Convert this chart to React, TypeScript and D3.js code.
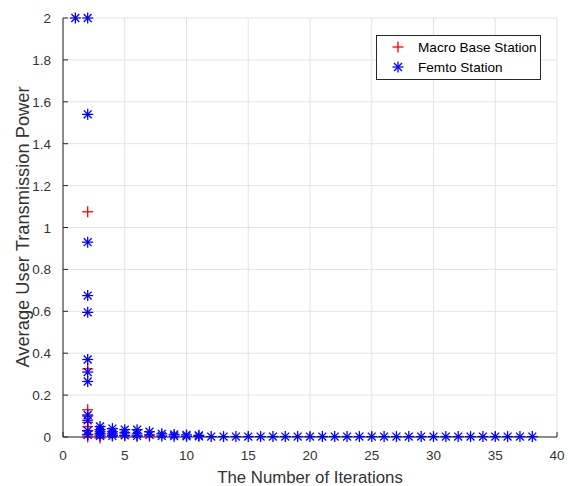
import React from "react";
import * as d3 from "d3";

const xTicks = [0, 5, 10, 15, 20, 25, 30, 35, 40];
const yTicks = [0, 0.2, 0.4, 0.6, 0.8, 1, 1.2, 1.4, 1.6, 1.8, 2];

const macroX = [2, 2, 2, 2, 2, 2, 2, 2, 2, 3, 3, 4, 5, 6, 7];
const macroY = [1.075, 0.325, 0.13, 0.1, 0.07, 0.05, 0.03, 0.012, 0.0, 0.015, -0.005, 0.008, 0.006, 0.005, 0.004];

const femtoX = [
  1, 2, 2, 2, 2, 2, 2, 2, 2, 2, 2, 2, 2,
  3, 3, 3, 3, 3, 4, 4, 4, 4, 5, 5, 5, 6, 6, 6, 7, 7, 8, 8, 9, 9, 10, 10, 11, 11,
  12, 13, 14, 15, 16, 17, 18, 19, 20, 21, 22, 23, 24, 25, 26, 27, 28, 29, 30,
  31, 32, 33, 34, 35, 36, 37, 38,
];
const femtoY = [
  2.0, 2.0, 1.54, 0.93, 0.675, 0.595, 0.37, 0.31, 0.265, 0.105, 0.08, 0.03, 0.01,
  0.05, 0.035, 0.025, 0.015, 0.005, 0.04, 0.025, 0.015, 0.005, 0.035, 0.02, 0.008, 0.035, 0.015, 0.005, 0.025, 0.01, 0.015, 0.005, 0.012, 0.004, 0.01, 0.003, 0.008, 0.003,
  0.002, 0.002, 0.002, 0.002, 0.002, 0.002, 0.002, 0.002, 0.002, 0.002, 0.002, 0.002, 0.002, 0.002, 0.002, 0.002, 0.002, 0.002, 0.002,
  0.002, 0.002, 0.002, 0.002, 0.002, 0.002, 0.002, 0.002,
];

const seriesNames = ["Macro Base Station", "Femto Station"];

const W = 568;
const H = 486;
const left = 63;
const right = 557;
const top = 18;
const bottom = 437;

const x = d3.scaleLinear().domain([0, 40]).range([left, right]);
const y = d3.scaleLinear().domain([0, 2]).range([bottom, top]);

const FONT = "'Liberation Sans', Arial, Helvetica, sans-serif";
const TXT = "#333333";

function Plus({ cx, cy, r = 5.5, color = "#ff0000" }: { cx: number; cy: number; r?: number; color?: string }) {
  return (
    <g stroke={color} strokeWidth={1.3}>
      <line x1={cx - r} y1={cy} x2={cx + r} y2={cy} />
      <line x1={cx} y1={cy - r} x2={cx} y2={cy + r} />
    </g>
  );
}

function Star({ cx, cy, r = 5.5, color = "#0000ff" }: { cx: number; cy: number; r?: number; color?: string }) {
  const d = r * 0.72;
  return (
    <g stroke={color} strokeWidth={1.3}>
      <line x1={cx - r} y1={cy} x2={cx + r} y2={cy} />
      <line x1={cx} y1={cy - r} x2={cx} y2={cy + r} />
      <line x1={cx - d} y1={cy - d} x2={cx + d} y2={cy + d} />
      <line x1={cx - d} y1={cy + d} x2={cx + d} y2={cy - d} />
    </g>
  );
}

export default function App() {
  return (
    <svg width={W} height={H} style={{ position: "absolute", left: 0, top: 0, background: "#fff" }} fontFamily={FONT}>
      <rect x={0} y={0} width={W} height={H} fill="#fff" />
      {/* grid */}
      {xTicks.map((t) => (
        <line key={"gx" + t} x1={x(t)} x2={x(t)} y1={top} y2={bottom} stroke="#e3e3e3" strokeWidth={1} />
      ))}
      {yTicks.map((t) => (
        <line key={"gy" + t} x1={left} x2={right} y1={y(t)} y2={y(t)} stroke="#e3e3e3" strokeWidth={1} />
      ))}
      {/* axes */}
      <line x1={left} x2={left} y1={top} y2={bottom} stroke="#262626" strokeWidth={1} />
      <line x1={left} x2={right} y1={bottom} y2={bottom} stroke="#262626" strokeWidth={1} />
      {xTicks.map((t) => (
        <g key={"xt" + t}>
          <line x1={x(t)} x2={x(t)} y1={bottom} y2={bottom - 5} stroke="#262626" />
          <text x={x(t)} y={460} textAnchor="middle" fontSize={13.5} fill={TXT}>
            {t}
          </text>
        </g>
      ))}
      {yTicks.map((t) => (
        <g key={"yt" + t}>
          <line x1={left} x2={left + 5} y1={y(t)} y2={y(t)} stroke="#262626" />
          <text x={51} y={y(t) + 5} textAnchor="end" fontSize={13.5} fill={TXT}>
            {d3.format("~g")(t)}
          </text>
        </g>
      ))}
      <text x={310} y={483} textAnchor="middle" fontSize={16.8} fill={TXT}>
        The Number of Iterations
      </text>
      <text
        transform={`translate(29,227) rotate(-90)`}
        textAnchor="middle"
        fontSize={18.3}
        fill={TXT}
      >
        Average User Transmission Power
      </text>
      {/* data */}
      {macroX.map((v, i) => (
        <Plus key={"m" + i} cx={x(v)} cy={y(macroY[i])} />
      ))}
      {femtoX.map((v, i) => (
        <Star key={"f" + i} cx={x(v)} cy={y(femtoY[i])} />
      ))}
      {/* legend */}
      <rect x={376.5} y={35.5} width={164} height={44} fill="#fff" stroke="#262626" strokeWidth={1} />
      <Plus cx={398} cy={47} />
      <text x={418} y={52} fontSize={13.6} fill="#000">
        {seriesNames[0]}
      </text>
      <Star cx={398} cy={67} />
      <text x={418} y={72} fontSize={13.6} fill="#000">
        {seriesNames[1]}
      </text>
    </svg>
  );
}
